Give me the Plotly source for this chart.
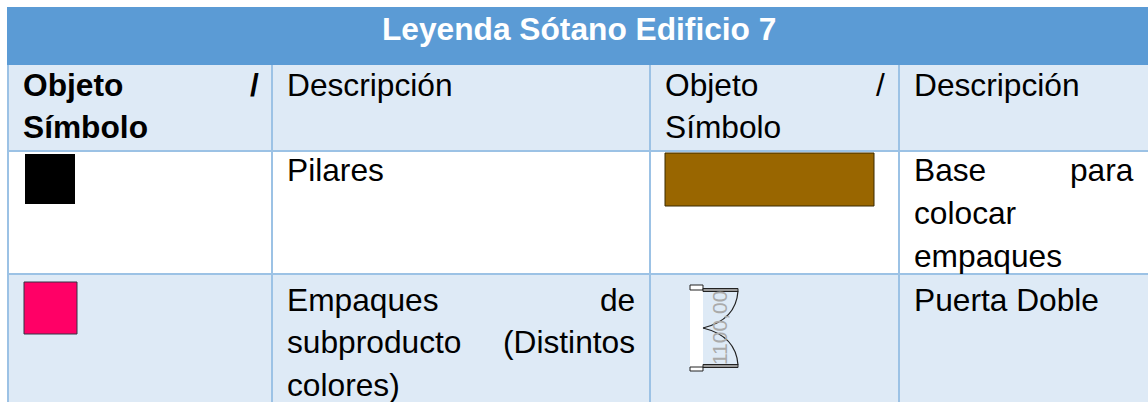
import plotly.graph_objects as go

title = "Leyenda Sótano Edificio 7"
header_left = ["Objeto", "/", "Símbolo"]
header_desc = "Descripción"
header_right = ["Objeto", "/", "Símbolo"]
pilares = "Pilares"
base_words = ["Base", "para", "colocar", "empaques"]
empaques_words = ["Empaques", "de", "subproducto", "(Distintos", "colores)"]
puerta = "Puerta Doble"
door_dim = "1100,00"

WIDTH, HEIGHT = 1148, 402
FS = 31.7
BLUE = "#5b9bd5"
BAND = "#deeaf6"
LINE = "#9cc2e5"

col_x = [8, 272, 650, 899]
row_y = [65, 151, 274, 402]


def rect(x0, y0, x1, y1, fill, line=None, lw=0):
    return dict(type="rect", xref="x", yref="y", x0=x0, y0=y0, x1=x1, y1=y1,
                fillcolor=fill, line=dict(color=line or fill, width=lw), layer="below")


def line(x0, y0, x1, y1, color=LINE, w=2):
    return dict(type="line", xref="x", yref="y", x0=x0, y0=y0, x1=x1, y1=y1,
                line=dict(color=color, width=w), layer="below")


def path(d, color="#222222", w=1.2):
    return dict(type="path", xref="x", yref="y", path=d, line=dict(color=color, width=w),
                fillcolor="rgba(0,0,0,0)", layer="above")


shapes = [
    rect(7, 7, WIDTH, 65, BLUE),
    rect(8, 65, WIDTH, 151, BAND),
    rect(8, 274, WIDTH, 402, BAND),
]
shapes += [line(x, 65, x, HEIGHT) for x in col_x]
shapes += [line(8, y, WIDTH, y) for y in row_y[1:3]]
shapes += [
    rect(25, 154, 75, 204, "#000000"),
    rect(665, 153, 874, 206, "#996600", "#3a2a00", 1),
    rect(24, 282, 77, 334, "#ff0066", "#333344", 1),
    # door
    rect(690, 290, 703, 367, "#ffffff"),
    rect(690, 285, 703, 290, "#ffffff", "#222222", 1),
    rect(690, 367, 703, 371, "#ffffff", "#222222", 1),
    rect(703, 288.5, 738, 291.5, "#999999", "#222222", 1),
    rect(703, 364.5, 738, 367.5, "#999999", "#222222", 1),
    path("M 738 291 Q 736 320 703 328"),
    path("M 738 365 Q 736 336 703 328"),
]


def T(x, y, s, size=FS, color="#000000", bold=False, anchor="left", angle=0):
    return dict(x=x, y=y, xref="x", yref="y", text=f"<b>{s}</b>" if bold else s,
                showarrow=False, xanchor=anchor, yanchor="middle", textangle=angle,
                font=dict(family="Liberation Sans", size=size, color=color), borderpad=0)


ann = [
    T(579, 29, title, color="#ffffff", bold=True, anchor="center"),
    T(21.5, 85, header_left[0], bold=True),
    T(260, 85, header_left[1], bold=True, anchor="right"),
    T(21.5, 127, header_left[2], bold=True),
    T(286, 85, header_desc),
    T(664, 85, header_right[0]),
    T(886, 85, header_right[1], anchor="right"),
    T(664, 127, header_right[2]),
    T(913, 85, header_desc),
    T(286, 170, pilares),
    T(913, 170, base_words[0]),
    T(1135, 170, base_words[1], anchor="right"),
    T(913, 213, base_words[2]),
    T(913, 256, base_words[3]),
    T(286, 300, empaques_words[0]),
    T(636, 300, empaques_words[1], anchor="right"),
    T(286, 342, empaques_words[2]),
    T(636, 342, empaques_words[3], anchor="right"),
    T(286, 385, empaques_words[4]),
    T(913, 300, puerta),
    T(719, 328, door_dim, size=21, color="#aaaaaa", anchor="center", angle=-90),
]

fig = go.Figure()
fig.update_layout(
    width=WIDTH, height=HEIGHT, margin=dict(l=0, r=0, t=0, b=0),
    paper_bgcolor="#ffffff", plot_bgcolor="#ffffff", showlegend=False,
    xaxis=dict(range=[0, WIDTH], visible=False, fixedrange=True),
    yaxis=dict(range=[HEIGHT, 0], visible=False, fixedrange=True),
    shapes=shapes, annotations=ann,
)
fig.write_html("out.html", config={"displayModeBar": False},
               post_script="document.body.style.margin='0';document.body.style.overflow='hidden';")
